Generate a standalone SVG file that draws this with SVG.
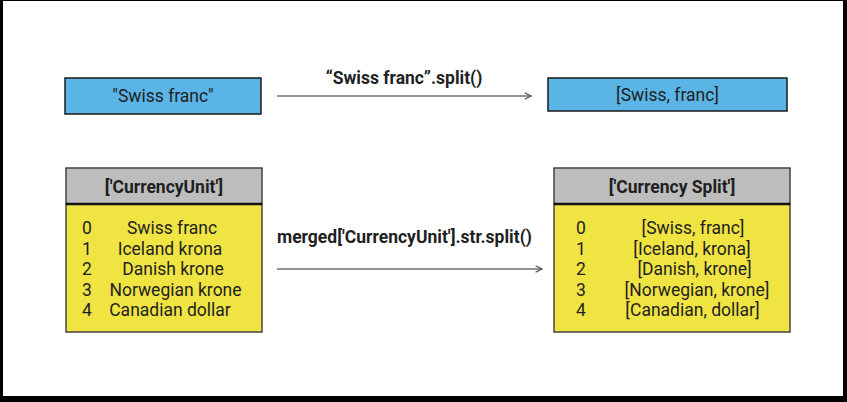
<svg xmlns="http://www.w3.org/2000/svg" width="847" height="402" viewBox="0 0 847 402">
<style>
.t{font-family:Roboto,"Liberation Sans",sans-serif;fill:#1f1f1f;font-size:17.5px}
.b{font-weight:bold;font-size:17.5px}
.blue{fill:#5ab4e6;stroke:#1a1a1a;stroke-width:1.5}
.hdr{fill:#bdbdbd;stroke:#444;stroke-width:1.5}
.body{fill:#f0e443;stroke:#444;stroke-width:1.5}
.sep{stroke:#111;stroke-width:2.5}
.conn{stroke:#707070;stroke-width:1.5;fill:none}
</style>
<defs>
<marker id="ah" viewBox="0 0 10 10" refX="9" refY="5" markerWidth="8" markerHeight="8" markerUnits="userSpaceOnUse" orient="auto">
<path d="M1,1 L9,5 L1,9" fill="none" stroke="#555" stroke-width="1.5"/>
</marker>
</defs>
<rect x="0" y="0" width="847" height="402" fill="#000"/>
<rect x="3" y="1" width="840" height="395" fill="#fff"/>
<g id="connectors">
<line class="conn" x1="277" y1="96" x2="531" y2="96" marker-end="url(#ah)"/>
<text class="t b" x="404" y="83.5" text-anchor="middle">“Swiss franc”.split()</text>
<line class="conn" x1="277" y1="269" x2="542" y2="269" marker-end="url(#ah)"/>
<text class="t b" x="277" y="243">merged['CurrencyUnit'].str.split()</text>
</g>
<g id="swiss-string">
<rect class="blue" x="65" y="78" width="196" height="36"/>
<text class="t" x="163" y="102" text-anchor="middle">"Swiss franc"</text>
</g>
<g id="swiss-list">
<rect class="blue" x="548" y="78" width="239" height="33"/>
<text class="t" x="667.5" y="100.5" text-anchor="middle">[Swiss, franc]</text>
</g>
<g id="currency-unit">
<rect class="hdr" x="66" y="168" width="196" height="36"/>
<rect class="body" x="66" y="204" width="196" height="128"/>
<line class="sep" x1="66" y1="204" x2="262" y2="204"/>
<text class="t b" x="164" y="192.5" text-anchor="middle">['CurrencyUnit']</text>
<g class="t">
<text x="87" y="234" text-anchor="middle">0</text>
<text x="87" y="254.5" text-anchor="middle">1</text>
<text x="87" y="275" text-anchor="middle">2</text>
<text x="87" y="295.5" text-anchor="middle">3</text>
<text x="87" y="316" text-anchor="middle">4</text>
<text x="172" y="234" text-anchor="middle">Swiss franc</text>
<text x="170" y="254.5" text-anchor="middle">Iceland krona</text>
<text x="173" y="275" text-anchor="middle">Danish krone</text>
<text x="175.5" y="295.5" text-anchor="middle">Norwegian krone</text>
<text x="170" y="316" text-anchor="middle">Canadian dollar</text>
</g>
</g>
<g id="currency-split">
<rect class="hdr" x="554" y="168" width="236" height="36"/>
<rect class="body" x="554" y="204" width="236" height="128"/>
<line class="sep" x1="554" y1="204" x2="790" y2="204"/>
<text class="t b" x="672" y="192.5" text-anchor="middle">['Currency Split']</text>
<g class="t">
<text x="581" y="234" text-anchor="middle">0</text>
<text x="581" y="254.5" text-anchor="middle">1</text>
<text x="581" y="275" text-anchor="middle">2</text>
<text x="581" y="295.5" text-anchor="middle">3</text>
<text x="581" y="316" text-anchor="middle">4</text>
<text x="693" y="234" text-anchor="middle">[Swiss, franc]</text>
<text x="692" y="254.5" text-anchor="middle">[Iceland, krona]</text>
<text x="694.5" y="275" text-anchor="middle">[Danish, krone]</text>
<text x="697" y="295.5" text-anchor="middle">[Norwegian, krone]</text>
<text x="692.5" y="316" text-anchor="middle">[Canadian, dollar]</text>
</g>
</g>
</svg>
